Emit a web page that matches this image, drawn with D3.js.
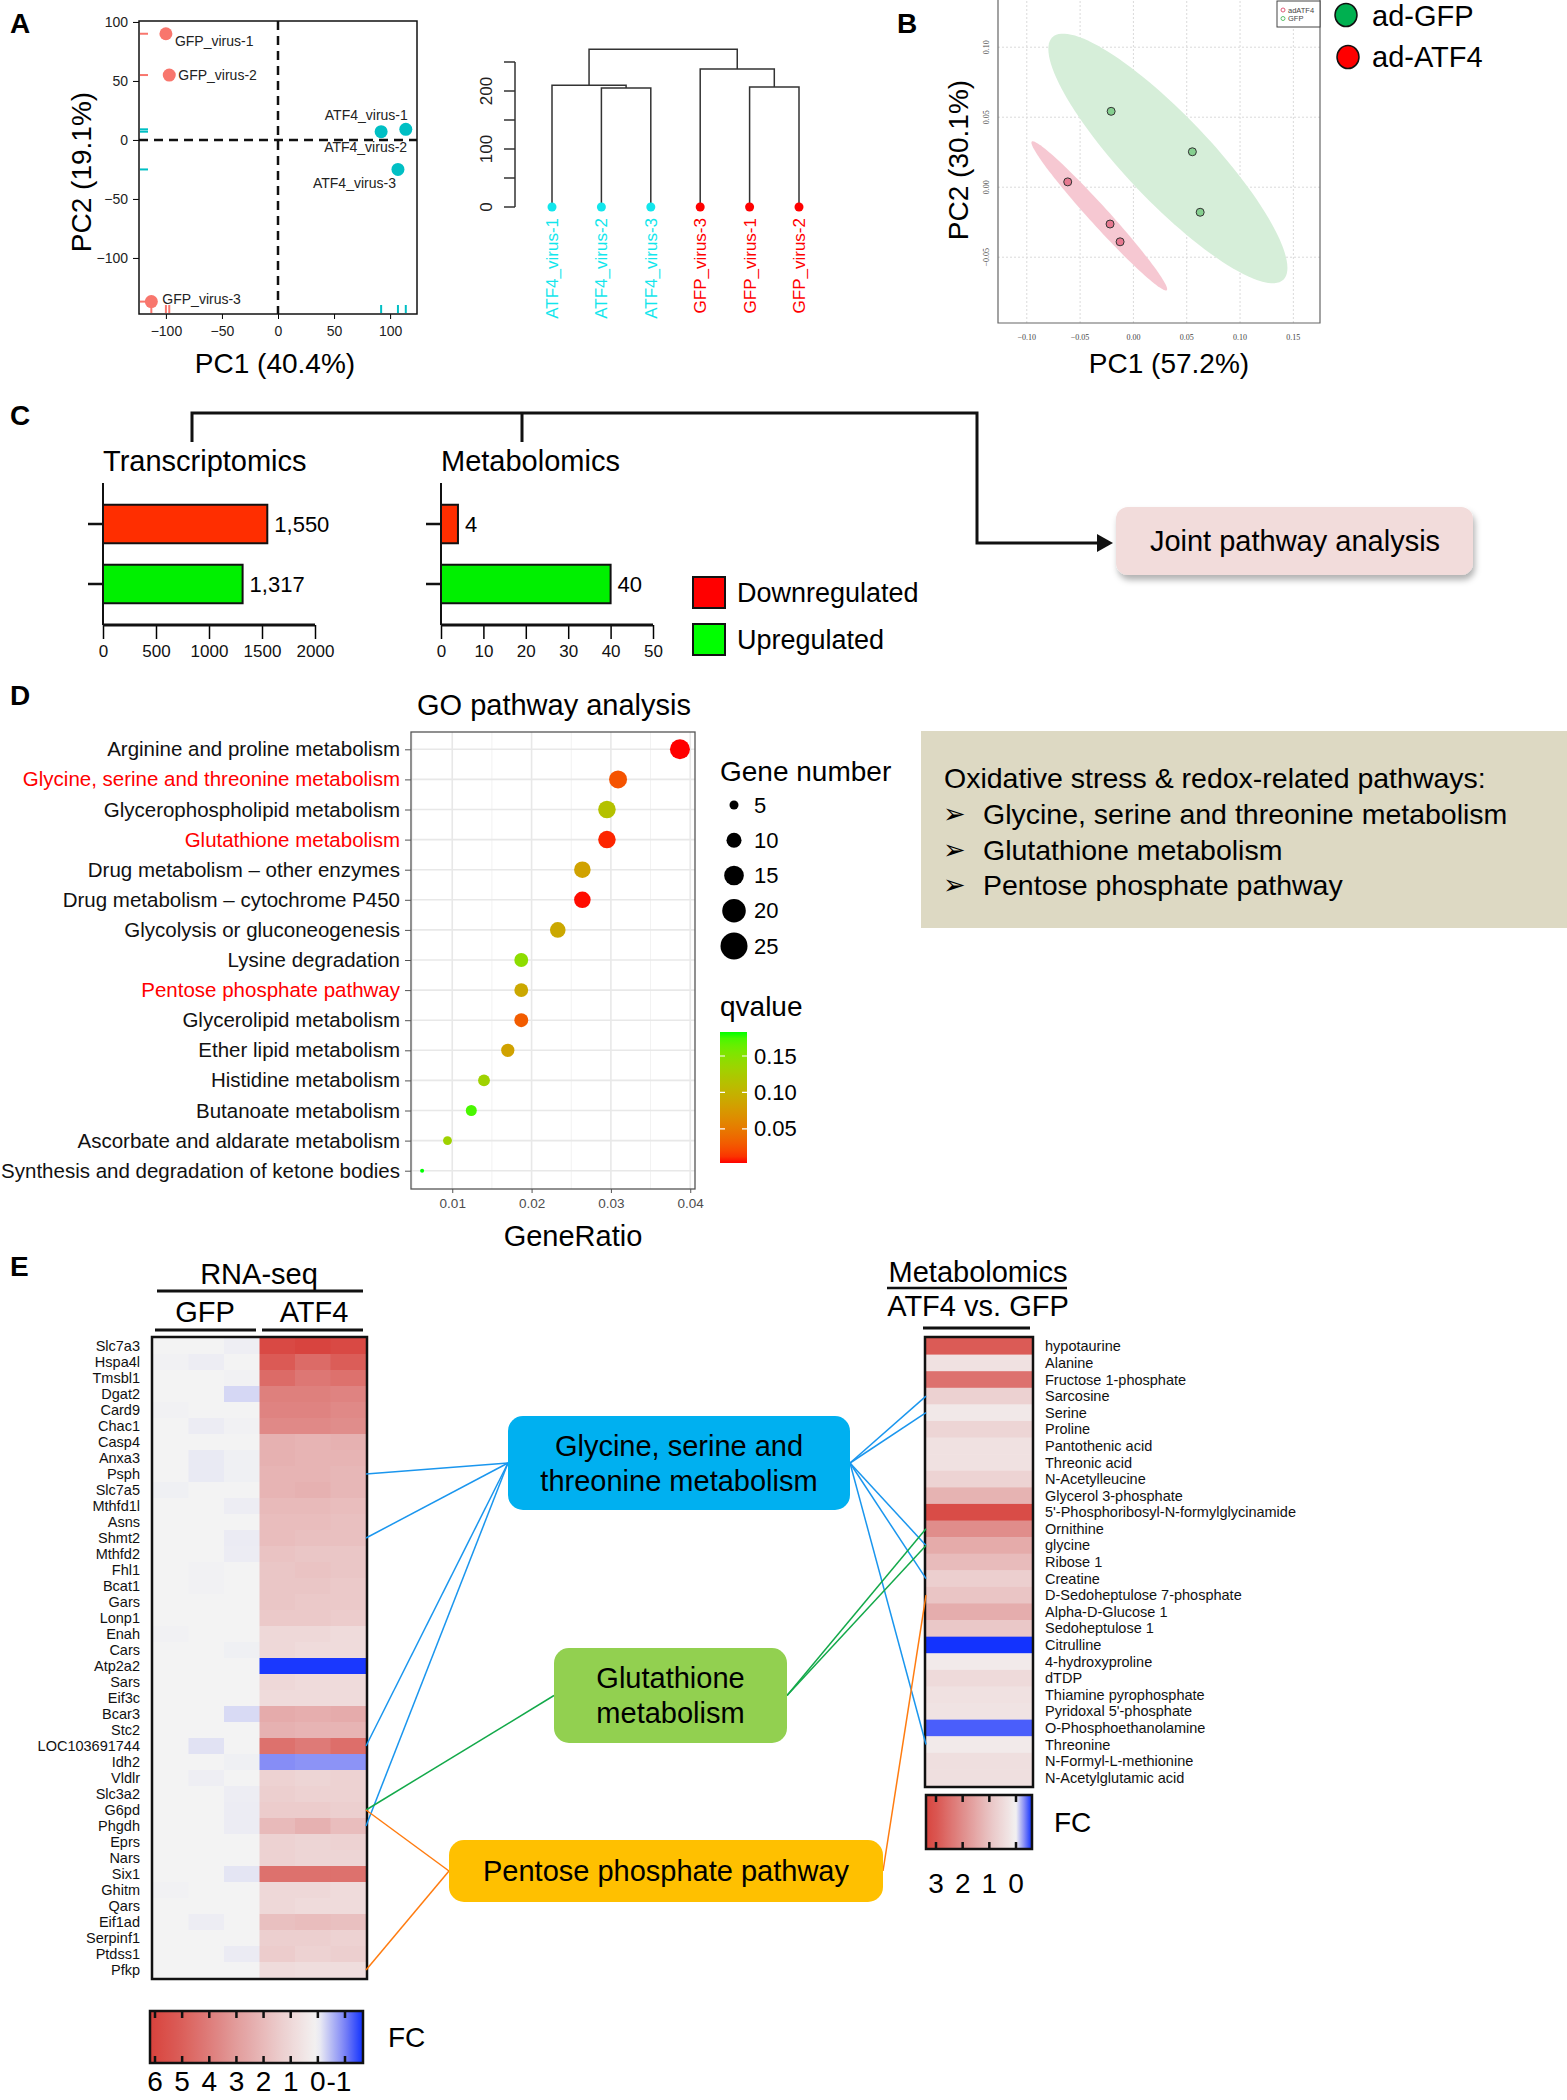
<!DOCTYPE html>
<html>
<head>
<meta charset="utf-8">
<script src="https://cdn.jsdelivr.net/npm/d3@7"></script>
<style>
body { margin: 0; background: #fff; }
svg { display: block; }
</style>
</head>
<body>
<script>
// ---- A: PCA of RNA-seq samples ----
const pcaSample = ["GFP_virus-1", "GFP_virus-2", "GFP_virus-3", "ATF4_virus-1", "ATF4_virus-2", "ATF4_virus-3"]
const pcaGroup = ["GFP", "GFP", "GFP", "ATF4", "ATF4", "ATF4"]
const pcaPC1 = [-100, -97, -113, 114, 92, 107]
const pcaPC2 = [90, 55, -137, 9, 7, -25]
const pcaTicks = [-100, -50, 0, 50, 100]

// ---- A: clustering (merge = [left, right, height], numbers point to earlier merges) ----
const dendLeaves = ["ATF4_virus-1", "ATF4_virus-2", "ATF4_virus-3", "GFP_virus-3", "GFP_virus-1", "GFP_virus-2"]
const dendMerges = [["ATF4_virus-2", "ATF4_virus-3", 205], ["ATF4_virus-1", 0, 210], ["GFP_virus-1", "GFP_virus-2", 207], ["GFP_virus-3", 2, 238], [1, 3, 272]]
const dendTicks = [0, 50, 100, 150, 200, 250]
const dendTickLabels = [0, 100, 200]

// ---- B: metabolomics PCA ----
const gfpPC1 = [-0.0209, 0.0553, 0.0626]
const gfpPC2 = [0.0542, 0.0253, -0.0179]
const atfPC1 = [-0.0616, -0.0219, -0.0125]
const atfPC2 = [0.0038, -0.0263, -0.039]
const gfpEllipseAxes = [[0.1083, -0.0866], [0.0290, 0.0212]]
const atfEllipseAxes = [[0.0633, -0.0531], [0.0066, 0.0046]]
const metTicksX = [-0.10, -0.05, 0, 0.05, 0.10, 0.15]
const metTicksY = [-0.05, 0, 0.05, 0.10]
const metGroups = ["ad-GFP", "ad-ATF4"]

// ---- C: differential counts ----
const omicsTypes = ["Transcriptomics", "Metabolomics"]
const regulation = ["Downregulated", "Upregulated"]
const downCounts = [1550, 4]
const upCounts = [1317, 40]
const countMax = [2000, 50]
const countTicks = [[0, 500, 1000, 1500, 2000], [0, 10, 20, 30, 40, 50]]

// ---- D: GO pathway enrichment ----
const goTerms = ["Arginine and proline metabolism", "Glycine, serine and threonine metabolism", "Glycerophospholipid metabolism",
    "Glutathione metabolism", "Drug metabolism \u2013 other enzymes", "Drug metabolism \u2013 cytochrome P450",
    "Glycolysis or gluconeogenesis", "Lysine degradation", "Pentose phosphate pathway", "Glycerolipid metabolism",
    "Ether lipid metabolism", "Histidine metabolism", "Butanoate metabolism", "Ascorbate and aldarate metabolism",
    "Synthesis and degradation of ketone bodies"]
const goRatio = [0.0387, 0.0309, 0.0295, 0.0295, 0.0264, 0.0264, 0.0233, 0.0187, 0.0187, 0.0187, 0.0170, 0.0140, 0.0124, 0.0094, 0.0062]
const goCount = [25, 20, 19, 19, 17, 17, 15, 12, 12, 12, 11, 9, 8, 6, 4]
const goQ = [0.003, 0.025, 0.115, 0.008, 0.084, 0.004, 0.09, 0.145, 0.09, 0.03, 0.084, 0.133, 0.174, 0.133, 0.183]
const goRatioTicks = [0.01, 0.02, 0.03, 0.04]
const goMinorTicks = [0.005, 0.015, 0.025, 0.035]
const redoxPathways = ["Glycine, serine and threonine metabolism", "Glutathione metabolism", "Pentose phosphate pathway"]
const sizeBreaks = [5, 10, 15, 20, 25]
const qBreaks = [0.05, 0.10, 0.15]

// ---- E: RNA-seq heatmap ----
const rnaGenes = ["Slc7a3", "Hspa4l", "Tmsbl1", "Dgat2", "Card9", "Chac1", "Casp4", "Anxa3", "Psph", "Slc7a5",
    "Mthfd1l", "Asns", "Shmt2", "Mthfd2", "Fhl1", "Bcat1", "Gars", "Lonp1", "Enah", "Cars",
    "Atp2a2", "Sars", "Eif3c", "Bcar3", "Stc2", "LOC103691744", "Idh2", "Vldlr", "Slc3a2", "G6pd",
    "Phgdh", "Eprs", "Nars", "Six1", "Ghitm", "Qars", "Eif1ad", "Serpinf1", "Ptdss1", "Pfkp"]
const rnaGFP = [[0, 0, -0.04], [-0.02, -0.05, 0], [0, 0, -0.02], [0, 0, -0.25], [-0.02, 0, 0], [0, -0.06, -0.02],
    [0, 0, 0], [0, -0.08, -0.03], [0, -0.08, -0.03], [-0.03, 0, 0], [0, 0, -0.05], [0, 0, 0], [0, 0, -0.07],
    [0, 0, -0.06], [0, -0.02, 0], [0, -0.02, 0], [0, 0, 0], [0, 0, 0], [-0.02, 0, 0], [0, 0, -0.03],
    [0, 0, 0], [0, 0, 0], [0, 0, 0], [0, 0, -0.22], [0, 0, 0], [0, -0.15, 0], [0, 0, -0.03], [0, -0.04, 0],
    [0, 0, -0.05], [0, 0, -0.06], [0, 0, -0.06], [0, 0, 0], [0, 0, 0], [0, 0, -0.12], [-0.02, 0, 0],
    [0, 0, 0], [0, -0.05, 0], [0, 0, 0], [0, 0, -0.07], [0, 0, 0]]
const rnaATF4 = [[5.9, 6.1, 5.9], [5.2, 4.6, 5.1], [4.6, 4.2, 4.4], [3.9, 3.9, 3.8], [3.8, 3.8, 3.6], [3.6, 3.6, 3.5],
    [2.3, 2.2, 2.3], [2.3, 2.2, 2.2], [2.2, 2.2, 2.1], [2.2, 2.3, 2.1], [2.0, 2.0, 1.9], [1.9, 1.9, 1.8],
    [1.9, 1.8, 1.8], [1.7, 1.6, 1.6], [1.6, 1.7, 1.6], [1.6, 1.6, 1.5], [1.6, 1.5, 1.5], [1.5, 1.5, 1.4],
    [1.0, 1.0, 0.9], [1.0, 0.9, 0.9], [-1.6, -1.6, -1.6], [1.0, 0.9, 0.9], [0.9, 0.9, 0.9], [2.5, 2.4, 2.5],
    [2.3, 2.2, 2.2], [4.4, 4.1, 4.5], [-0.9, -0.85, -0.85], [1.2, 1.1, 1.2], [1.3, 1.2, 1.2], [1.4, 1.4, 1.3],
    [2.0, 2.3, 1.9], [1.2, 1.1, 1.2], [1.2, 1.1, 1.1], [4.4, 4.4, 4.4], [1.0, 1.0, 0.9], [1.0, 0.9, 0.9],
    [1.8, 1.9, 1.8], [1.3, 1.3, 1.2], [1.4, 1.2, 1.3], [0.9, 0.8, 0.8]]
const rnaLegendTicks = [6, 5, 4, 3, 2, 1, 0, -1]

// ---- E: metabolomics heatmap ----
const metabolites = ["hypotaurine", "Alanine", "Fructose 1-phosphate", "Sarcosine", "Serine", "Proline", "Pantothenic acid",
    "Threonic acid", "N-Acetylleucine", "Glycerol 3-phosphate", "5'-Phosphoribosyl-N-formylglycinamide", "Ornithine",
    "glycine", "Ribose 1", "Creatine", "D-Sedoheptulose 7-phosphate", "Alpha-D-Glucose 1", "Sedoheptulose 1",
    "Citrulline", "4-hydroxyproline", "dTDP", "Thiamine pyrophosphate", "Pyridoxal 5'-phosphate",
    "O-Phosphoethanolamine", "Threonine", "N-Formyl-L-methionine", "N-Acetylglutamic acid"]
const metFC = [2.9, 0.35, 2.5, 0.7, 0.2, 0.6, 0.35, 0.35, 0.65, 1.3, 3.2, 2.0, 1.45, 1.15, 0.75, 0.95, 1.4, 0.9,
    -0.58, 0.15, 0.5, 0.35, 0.3, -0.45, 0.15, 0.4, 0.4]
const metLegendTicks = [3, 2, 1, 0]

// ---- E: joint pathways ----
const pathwayNames = ["Glycine, serine and threonine metabolism", "Glutathione metabolism", "Pentose phosphate pathway"]
const pathwayGenes = [["Psph", "Shmt2", "LOC103691744", "Phgdh"], ["G6pd"], ["G6pd", "Pfkp"]]
const pathwayMetabolites = [["Sarcosine", "Serine", "glycine", "Creatine", "Threonine"], ["Ornithine", "glycine"], ["D-Sedoheptulose 7-phosphate"]]

// ================= drawing =================
const FONT = "'Liberation Sans', Arial, Helvetica, sans-serif"
const svg = d3.select("body").append("svg")
    .attr("width", 1567).attr("height", 2100)
    .style("font-family", FONT)
svg.append("rect").attr("width", 1567).attr("height", 2100).attr("fill", "#fff")
const defs = svg.append("defs")

// panel letters
const letters = [["A", 10, 33], ["B", 897, 33], ["C", 10, 425], ["D", 10, 705], ["E", 10, 1276]]
svg.append("g").selectAll("text").data(letters).join("text")
    .attr("x", d => d[1]).attr("y", d => d[2])
    .attr("font-size", 28).attr("font-weight", "bold").text(d => d[0])

function styleAxis (g, size, fill) {
    g.select(".domain").remove()
    g.selectAll("text").attr("font-size", size).attr("fill", fill).attr("font-family", FONT)
    return g
}

// ---------- A: PCA ----------
const xA = d3.scaleLinear().domain([-124, 124]).range([139, 417])
const yA = d3.scaleLinear().domain([-147.5, 100.8]).range([314, 21])
const colA = d3.scaleOrdinal().domain(["GFP", "ATF4"]).range(["#f8766d", "#00bfc4"])
const gA = svg.append("g")

gA.append("g").attr("transform", "translate(0,314)")
    .call(d3.axisBottom(xA).tickValues(pcaTicks).tickSize(5).tickSizeOuter(0))
    .call(g => styleAxis(g, 14, "#222"))
    .call(g => g.selectAll("text").attr("y", 12))
gA.append("g").attr("transform", "translate(139,0)")
    .call(d3.axisLeft(yA).tickValues(pcaTicks).tickSize(6).tickSizeOuter(0))
    .call(g => styleAxis(g, 14, "#222"))
    .call(g => g.selectAll("text").attr("x", -11))

gA.append("line").attr("x1", xA(0)).attr("x2", xA(0)).attr("y1", 21).attr("y2", 314)
    .attr("stroke", "#111").attr("stroke-width", 2.5).attr("stroke-dasharray", "9,6")
gA.append("line").attr("x1", 139).attr("x2", 417).attr("y1", yA(0)).attr("y2", yA(0))
    .attr("stroke", "#111").attr("stroke-width", 2.5).attr("stroke-dasharray", "9,6")

const idxA = d3.range(pcaSample.length)
gA.append("g").selectAll("line").data(idxA).join("line")
    .attr("x1", 140).attr("x2", 148)
    .attr("y1", i => yA(pcaPC2[i])).attr("y2", i => yA(pcaPC2[i]))
    .attr("stroke", i => colA(pcaGroup[i])).attr("stroke-width", 2)
gA.append("g").selectAll("line").data(idxA).join("line")
    .attr("y1", 305).attr("y2", 313)
    .attr("x1", i => xA(pcaPC1[i])).attr("x2", i => xA(pcaPC1[i]))
    .attr("stroke", i => colA(pcaGroup[i])).attr("stroke-width", 2)

gA.append("g").selectAll("circle").data(idxA).join("circle")
    .attr("cx", i => xA(pcaPC1[i])).attr("cy", i => yA(pcaPC2[i])).attr("r", 6.5)
    .attr("fill", i => colA(pcaGroup[i]))

// label nudges (layout only)
const labNudge = [[9, 12, "start"], [9, 5, "start"], [11, 2, "start"], [2, -9, "end"], [26, 20, "end"], [-2, 19, "end"]]
gA.append("g").selectAll("text").data(idxA).join("text")
    .attr("x", i => xA(pcaPC1[i]) + labNudge[i][0])
    .attr("y", i => yA(pcaPC2[i]) + labNudge[i][1])
    .attr("text-anchor", i => labNudge[i][2])
    .attr("font-size", 14).attr("fill", "#222").text(i => pcaSample[i])

gA.append("rect").attr("x", 139).attr("y", 21).attr("width", 278).attr("height", 293)
    .attr("fill", "none").attr("stroke", "#111").attr("stroke-width", 1.5)

gA.append("text").attr("x", 275).attr("y", 373).attr("text-anchor", "middle")
    .attr("font-size", 28).text("PC1 (40.4%)")
gA.append("text").attr("transform", "translate(91,172) rotate(-90)").attr("text-anchor", "middle")
    .attr("font-size", 28).text("PC2 (19.1%)")

// ---------- A: dendrogram ----------
const xDn = d3.scalePoint().domain(dendLeaves).range([552, 799])
const yDn = d3.scaleLinear().domain([0, 250]).range([207, 62])
const gDn = svg.append("g")
const dendColor = name => name.startsWith("ATF4") ? "#12e6ec" : "#ff0000"

const nodes = []
const nodeOf = ref => typeof ref === "string" ? {x: xDn(ref), h: 0} : nodes[ref]
dendMerges.forEach(([a, b, h]) => {
    const na = nodeOf(a), nb = nodeOf(b)
    gDn.append("path")
        .attr("d", `M${na.x},${yDn(na.h)}V${yDn(h)}H${nb.x}V${yDn(nb.h)}`)
        .attr("fill", "none").attr("stroke", "#333").attr("stroke-width", 1.5)
    nodes.push({x: (na.x + nb.x) / 2, h: h})
})
gDn.append("g").selectAll("circle").data(dendLeaves).join("circle")
    .attr("cx", d => xDn(d)).attr("cy", yDn(0)).attr("r", 4.5).attr("fill", dendColor)
gDn.append("g").selectAll("text").data(dendLeaves).join("text")
    .attr("transform", d => `translate(${xDn(d) + 6},218) rotate(-90)`)
    .attr("text-anchor", "end").attr("font-size", 17).attr("fill", dendColor).text(d => d)

gDn.append("line").attr("x1", 515).attr("x2", 515).attr("y1", yDn(0)).attr("y2", yDn(250))
    .attr("stroke", "#333").attr("stroke-width", 1.5)
gDn.append("g").selectAll("line").data(dendTicks).join("line")
    .attr("x1", 504).attr("x2", 515).attr("y1", d => yDn(d)).attr("y2", d => yDn(d))
    .attr("stroke", "#333").attr("stroke-width", 1.5)
gDn.append("g").selectAll("text").data(dendTickLabels).join("text")
    .attr("transform", d => `translate(492,${yDn(d)}) rotate(-90)`)
    .attr("text-anchor", "middle").attr("font-size", 17).attr("fill", "#222").text(d => d)

// ---------- B: metabolomics PCA ----------
const xB = d3.scaleLinear().domain([-0.127, 0.175]).range([998, 1320])
const yB = d3.scaleLinear().domain([-0.097, 0.133]).range([323, 1])
const gB = svg.append("g")

gB.append("g").selectAll("line").data(metTicksX).join("line")
    .attr("x1", d => xB(d)).attr("x2", d => xB(d)).attr("y1", 1).attr("y2", 323)
    .attr("stroke", "#dadada").attr("stroke-dasharray", "2,2")
gB.append("g").selectAll("line").data(metTicksY).join("line")
    .attr("y1", d => yB(d)).attr("y2", d => yB(d)).attr("x1", 998).attr("x2", 1320)
    .attr("stroke", "#dadada").attr("stroke-dasharray", "2,2")

function ellipsePath (cx, cy, axes) {
    const [u, v] = axes
    const pts = d3.range(0, 2 * Math.PI + 0.01, Math.PI / 60)
        .map(t => [xB(cx + u[0] * Math.cos(t) + v[0] * Math.sin(t)), yB(cy + u[1] * Math.cos(t) + v[1] * Math.sin(t))])
    return d3.line()(pts) + "Z"
}
gB.append("path").attr("d", ellipsePath(d3.mean(gfpPC1), d3.mean(gfpPC2), gfpEllipseAxes))
    .attr("fill", "#d6eed9")
gB.append("path").attr("d", ellipsePath(d3.mean(atfPC1), d3.mean(atfPC2), atfEllipseAxes))
    .attr("fill", "#f6c8d2")

gB.append("g").selectAll("circle").data(d3.range(3)).join("circle")
    .attr("cx", i => xB(gfpPC1[i])).attr("cy", i => yB(gfpPC2[i])).attr("r", 4)
    .attr("fill", "#85cf8f").attr("stroke", "#333").attr("stroke-width", 1)
gB.append("g").selectAll("circle").data(d3.range(3)).join("circle")
    .attr("cx", i => xB(atfPC1[i])).attr("cy", i => yB(atfPC2[i])).attr("r", 4)
    .attr("fill", "#e6788f").attr("stroke", "#333").attr("stroke-width", 1)

gB.append("path").attr("d", "M998,0V323H1320V0")
    .attr("fill", "none").attr("stroke", "#666").attr("stroke-width", 1.2)
gB.append("g").selectAll("text").data(metTicksX).join("text")
    .attr("x", d => xB(d)).attr("y", 340).attr("text-anchor", "middle")
    .attr("font-family", "'Liberation Serif', serif").attr("font-size", 8).attr("fill", "#444")
    .text(d => d3.format(".2f")(d))
gB.append("g").selectAll("text").data(metTicksY).join("text")
    .attr("transform", d => `translate(989,${yB(d)}) rotate(-90)`).attr("text-anchor", "middle")
    .attr("font-family", "'Liberation Serif', serif").attr("font-size", 8).attr("fill", "#444")
    .text(d => d3.format(".2f")(d))

// small inner legend
const innerNames = ["adATF4", "GFP"]
const innerLeg = gB.append("g")
innerLeg.append("rect").attr("x", 1277).attr("y", 1).attr("width", 43).attr("height", 26)
    .attr("fill", "#fff").attr("stroke", "#444").attr("stroke-width", 1)
innerLeg.selectAll("circle").data(innerNames).join("circle")
    .attr("cx", 1283).attr("cy", (d, i) => 10 + i * 8.5).attr("r", 2)
    .attr("fill", "none").attr("stroke", (d, i) => i ? "#5cc06a" : "#e05a78").attr("stroke-width", 1)
innerLeg.selectAll("text").data(innerNames).join("text")
    .attr("x", 1288).attr("y", (d, i) => 12.7 + i * 8.5).attr("font-size", 7.5).attr("fill", "#444").text(d => d)

// outer legend
const outerColors = ["#00b050", "#ff0000"]
const outerLeg = gB.append("g")
outerLeg.selectAll("ellipse").data(metGroups).join("ellipse")
    .attr("cx", (d, i) => 1346 + i * 2).attr("cy", (d, i) => 15 + i * 42).attr("rx", 11).attr("ry", 11.5)
    .attr("fill", (d, i) => outerColors[i]).attr("stroke", "#111").attr("stroke-width", 1.5)
outerLeg.selectAll("text").data(metGroups).join("text")
    .attr("x", 1372).attr("y", (d, i) => 26 + i * 41).attr("font-size", 29).text(d => d)

gB.append("text").attr("x", 1169).attr("y", 373).attr("text-anchor", "middle")
    .attr("font-size", 28).text("PC1 (57.2%)")
gB.append("text").attr("transform", "translate(968,160) rotate(-90)").attr("text-anchor", "middle")
    .attr("font-size", 28).text("PC2 (30.1%)")

// ---------- C: counts ----------
const gC = svg.append("g")
const bracket = "M192,442V413H977V543H1100M522,413V442"
gC.append("path").attr("d", bracket).attr("fill", "none").attr("stroke", "#111").attr("stroke-width", 3)
gC.append("path").attr("d", "M1097,534L1113,543L1097,552Z").attr("fill", "#111")

const barY = d3.scaleBand().domain(regulation).range([483, 625]).paddingInner(0.358).paddingOuter(0.3625)
const barColors = {Downregulated: "#ff2e00", Upregulated: "#00f000"}
const chartLeft = [103, 441]
omicsTypes.forEach((name, k) => {
    const x = d3.scaleLinear().domain([0, countMax[k]]).range([chartLeft[k], chartLeft[k] + 212])
    const g = gC.append("g")
    g.append("text").attr("x", chartLeft[k]).attr("y", 471).attr("font-size", 29).text(name)
    const vals = [downCounts[k], upCounts[k]]
    g.selectAll("rect").data(regulation).join("rect")
        .attr("x", x(0)).attr("y", d => barY(d)).attr("height", barY.bandwidth())
        .attr("width", (d, i) => x(vals[i]) - x(0))
        .attr("fill", d => barColors[d]).attr("stroke", "#111").attr("stroke-width", 2)
    g.selectAll("text.val").data(regulation).join("text").attr("class", "val")
        .attr("x", (d, i) => x(vals[i]) + 7).attr("y", d => barY(d) + barY.bandwidth() / 2).attr("dy", "0.35em")
        .attr("font-size", 22).text((d, i) => d3.format(",")(vals[i]))
    g.append("line").attr("x1", x(0)).attr("x2", x(0)).attr("y1", 483).attr("y2", 625)
        .attr("stroke", "#111").attr("stroke-width", 2)
    g.selectAll("line.tk").data(regulation).join("line").attr("class", "tk")
        .attr("x1", x(0) - 15).attr("x2", x(0)).attr("y1", d => barY(d) + barY.bandwidth() / 2)
        .attr("y2", d => barY(d) + barY.bandwidth() / 2).attr("stroke", "#111").attr("stroke-width", 2.5)
    g.append("g").attr("transform", "translate(0,625)")
        .call(d3.axisBottom(x).tickValues(countTicks[k]).tickFormat(d3.format("d")).tickSize(14).tickSizeOuter(0))
        .call(ax => styleAxis(ax, 17, "#111"))
        .call(ax => ax.selectAll("line").attr("stroke-width", 1.5))
        .call(ax => ax.selectAll("text").attr("y", 20))
    g.append("line").attr("x1", x(0)).attr("x2", x(countMax[k])).attr("y1", 625).attr("y2", 625)
        .attr("stroke", "#111").attr("stroke-width", 3)
})
const legC = gC.append("g")
legC.selectAll("rect").data(regulation).join("rect")
    .attr("x", 693).attr("y", (d, i) => 577 + i * 47).attr("width", 32).attr("height", 31)
    .attr("fill", (d, i) => i ? "#00ff00" : "#ff0000").attr("stroke", "#111").attr("stroke-width", 2)
legC.selectAll("text").data(regulation).join("text")
    .attr("x", 737).attr("y", (d, i) => 593 + i * 47).attr("dy", "0.35em").attr("font-size", 27).text(d => d)

const shadow = defs.append("filter").attr("id", "shadow").attr("x", "-10%").attr("y", "-20%").attr("width", "130%").attr("height", "160%")
shadow.append("feDropShadow").attr("dx", 2).attr("dy", 5).attr("stdDeviation", 3).attr("flood-color", "#000").attr("flood-opacity", 0.3)
gC.append("rect").attr("x", 1116).attr("y", 507).attr("width", 357).attr("height", 68).attr("rx", 12)
    .attr("fill", "#f2dcdb").attr("filter", "url(#shadow)")
gC.append("text").attr("x", 1295).attr("y", 541).attr("dy", "0.35em").attr("text-anchor", "middle")
    .attr("font-size", 29).text("Joint pathway analysis")

// ---------- D: GO dot plot ----------
const gD = svg.append("g")
const xG = d3.scaleLinear().domain([0.0048, 0.0406]).range([411, 695])
const yG = d3.scalePoint().domain(goTerms).range([749.3, 1170.7])
const qColor = d3.scaleLinear().domain([0.003, 0.183]).range(["#ff0000", "#00ff00"]).interpolate(d3.interpolateLab)
const sizeNorm = d3.scaleLinear().domain(d3.extent(goCount)).range([0, 1])
const sizeArea = d3.scaleSqrt().domain([0, 1]).range([2, 10])
const legendSize = d3.scaleSqrt().domain([5, 25]).range([4.5, 13.5])

gD.append("text").attr("x", 554).attr("y", 715).attr("text-anchor", "middle").attr("font-size", 29).text("GO pathway analysis")
gD.append("g").selectAll("line").data(goMinorTicks).join("line")
    .attr("x1", d => xG(d)).attr("x2", d => xG(d)).attr("y1", 732).attr("y2", 1189)
    .attr("stroke", "#f2f2f2").attr("stroke-width", 1)
gD.append("g").selectAll("line").data(goRatioTicks).join("line")
    .attr("x1", d => xG(d)).attr("x2", d => xG(d)).attr("y1", 732).attr("y2", 1189)
    .attr("stroke", "#e8e8e8").attr("stroke-width", 1.6)
gD.append("g").selectAll("line").data(goTerms).join("line")
    .attr("y1", d => yG(d)).attr("y2", d => yG(d)).attr("x1", 411).attr("x2", 695)
    .attr("stroke", "#e8e8e8").attr("stroke-width", 1.6)
gD.append("rect").attr("x", 411).attr("y", 732).attr("width", 284).attr("height", 457)
    .attr("fill", "none").attr("stroke", "#555").attr("stroke-width", 1.3)

gD.append("g").attr("transform", "translate(0,1189)")
    .call(d3.axisBottom(xG).tickValues(goRatioTicks).tickFormat(d3.format(".2f")).tickSize(4).tickSizeOuter(0))
    .call(g => styleAxis(g, 13.5, "#4d4d4d"))
    .call(g => g.selectAll("line").attr("stroke", "#555"))
    .call(g => g.selectAll("text").attr("y", 9))
gD.append("g").attr("transform", "translate(411,0)")
    .call(d3.axisLeft(yG).tickSize(6).tickSizeOuter(0))
    .call(g => styleAxis(g, 20.5, "#111"))
    .call(g => g.selectAll("line").attr("stroke", "#555"))
    .call(g => g.selectAll("text").attr("x", -11).attr("fill", d => redoxPathways.includes(d) ? "#ff0000" : "#111"))

gD.append("g").selectAll("circle").data(d3.range(goTerms.length)).join("circle")
    .attr("cx", i => xG(goRatio[i])).attr("cy", i => yG(goTerms[i]))
    .attr("r", i => sizeArea(sizeNorm(goCount[i]))).attr("fill", i => qColor(goQ[i]))
gD.append("text").attr("x", 573).attr("y", 1246).attr("text-anchor", "middle").attr("font-size", 29).text("GeneRatio")

// size legend
const sizeLegY = d3.scalePoint().domain(sizeBreaks).range([805, 946])
gD.append("text").attr("x", 720).attr("y", 781).attr("font-size", 28).text("Gene number")
gD.append("g").selectAll("circle").data(sizeBreaks).join("circle")
    .attr("cx", 734).attr("cy", d => sizeLegY(d)).attr("r", d => legendSize(d)).attr("fill", "#000")
gD.append("g").selectAll("text").data(sizeBreaks).join("text")
    .attr("x", 754).attr("y", d => sizeLegY(d)).attr("dy", "0.35em").attr("font-size", 22).text(d => d)

// qvalue colourbar
const qBarY = d3.scaleLinear().domain([0.003, 0.183]).range([1163, 1032])
const qGrad = defs.append("linearGradient").attr("id", "qgrad").attr("x1", 0).attr("x2", 0).attr("y1", 1).attr("y2", 0)
qGrad.selectAll("stop").data(d3.range(0, 1.001, 0.05)).join("stop")
    .attr("offset", t => t).attr("stop-color", t => qColor(0.003 + t * 0.18))
gD.append("text").attr("x", 720).attr("y", 1016).attr("font-size", 28).text("qvalue")
gD.append("rect").attr("x", 720).attr("y", 1032).attr("width", 27).attr("height", 131).attr("fill", "url(#qgrad)")
gD.append("g").selectAll("path").data(qBreaks).join("path")
    .attr("d", d => `M720,${qBarY(d)}h5M742,${qBarY(d)}h5`).attr("stroke", "#fff").attr("stroke-width", 1.2)
gD.append("g").selectAll("text").data(qBreaks).join("text")
    .attr("x", 754).attr("y", d => qBarY(d)).attr("dy", "0.35em").attr("font-size", 22).text(d => d3.format(".2f")(d))

// redox box
const gBox = svg.append("g")
gBox.append("rect").attr("x", 921).attr("y", 731).attr("width", 646).attr("height", 197).attr("fill", "#ddd9c3")
gBox.append("text").attr("x", 944).attr("y", 788).attr("font-size", 28.5).text("Oxidative stress & redox-related pathways:")
gBox.selectAll("text.item").data(redoxPathways).join("text").attr("class", "item")
    .attr("x", 983).attr("y", (d, i) => 824 + i * 35.5).attr("font-size", 28.5).text(d => d)
gBox.selectAll("text.bullet").data(redoxPathways).join("text").attr("class", "bullet")
    .attr("x", 943).attr("y", (d, i) => 823 + i * 35.5).attr("font-family", "'DejaVu Sans', sans-serif")
    .attr("font-size", 27).text("\u27A2")

// ---------- E: heatmaps ----------
const gE = svg.append("g")
const rnaColor = d3.scaleLinear().domain([6.2, 5, 4, 3, 2, 1, 0, -1, -1.7])
    .range(["#d8423c", "#db5f5a", "#de7d7a", "#e29c9b", "#e8baba", "#eed8d8", "#f3f3f3", "#7a82f6", "#0a2cff"]).clamp(true)
const metColor = d3.scaleLinear().domain([3.4, 3, 2, 1, 0, -0.3, -0.6])
    .range(["#d8443e", "#da5550", "#e08d8b", "#e9c3c3", "#f3f1f1", "#8a90f6", "#0a2cff"]).clamp(true)

// headers
const groupHeads = [["GFP", 205, 155, 256], ["ATF4", 314, 262, 363]]
const hdr = gE.append("g")
hdr.append("text").attr("x", 259).attr("y", 1284).attr("text-anchor", "middle").attr("font-size", 29).text("RNA-seq")
hdr.append("line").attr("x1", 157).attr("x2", 363).attr("y1", 1291).attr("y2", 1291).attr("stroke", "#111").attr("stroke-width", 3)
hdr.selectAll("text.grp").data(groupHeads).join("text").attr("class", "grp")
    .attr("x", d => d[1]).attr("y", 1322).attr("text-anchor", "middle").attr("font-size", 29).text(d => d[0])
hdr.selectAll("line.grp").data(groupHeads).join("line").attr("class", "grp")
    .attr("x1", d => d[2]).attr("x2", d => d[3]).attr("y1", 1330).attr("y2", 1330).attr("stroke", "#111").attr("stroke-width", 3)
hdr.append("text").attr("x", 978).attr("y", 1282).attr("text-anchor", "middle").attr("font-size", 29).text("Metabolomics")
hdr.append("line").attr("x1", 887).attr("x2", 1067).attr("y1", 1288).attr("y2", 1288).attr("stroke", "#111").attr("stroke-width", 2.5)
hdr.append("text").attr("x", 978).attr("y", 1316).attr("text-anchor", "middle").attr("font-size", 29).text("ATF4 vs. GFP")
hdr.append("line").attr("x1", 923).attr("x2", 1030).attr("y1", 1328).attr("y2", 1328).attr("stroke", "#111").attr("stroke-width", 3)

// RNA-seq cells
const rnaX = d3.scaleBand().domain(d3.range(6)).range([153, 366])
const rnaY = d3.scaleBand().domain(rnaGenes).range([1338, 1978])
const rnaCells = rnaGenes.flatMap((g, i) => d3.range(6).map(j => ({g, j, v: j < 3 ? rnaGFP[i][j] : rnaATF4[i][j - 3]})))
gE.append("g").selectAll("rect").data(rnaCells).join("rect")
    .attr("x", d => rnaX(d.j)).attr("y", d => rnaY(d.g))
    .attr("width", rnaX.bandwidth() + 0.5).attr("height", rnaY.bandwidth() + 0.5)
    .attr("fill", d => rnaColor(d.v))
gE.append("rect").attr("x", 152).attr("y", 1337).attr("width", 215).attr("height", 642)
    .attr("fill", "none").attr("stroke", "#111").attr("stroke-width", 2.5)
gE.append("g").selectAll("text").data(rnaGenes).join("text")
    .attr("x", 140).attr("y", d => rnaY(d) + rnaY.bandwidth() / 2).attr("dy", "0.35em")
    .attr("text-anchor", "end").attr("font-size", 14.5).attr("fill", "#111").text(d => d)

// metabolomics cells
const metY = d3.scaleBand().domain(metabolites).range([1338, 1786])
gE.append("g").selectAll("rect").data(metabolites).join("rect")
    .attr("x", 926).attr("y", d => metY(d)).attr("width", 106).attr("height", metY.bandwidth() + 0.5)
    .attr("fill", (d, i) => metColor(metFC[i]))
gE.append("rect").attr("x", 925).attr("y", 1337).attr("width", 108).attr("height", 450)
    .attr("fill", "none").attr("stroke", "#111").attr("stroke-width", 2.5)
gE.append("g").selectAll("text").data(metabolites).join("text")
    .attr("x", 1045).attr("y", d => metY(d) + metY.bandwidth() / 2).attr("dy", "0.35em")
    .attr("font-size", 14.5).attr("fill", "#111").text(d => d)

// pathway boxes and links
const boxLayout = [[508, 1416, 342, 94], [554, 1648, 233, 95], [449, 1840, 434, 62]]
const boxFill = ["#00b0f0", "#92d050", "#ffc000"]
const linkColor = ["#1a96ee", "#13a94a", "#ff7c10"]
const boxLines = [["Glycine, serine and", "threonine metabolism"], ["Glutathione", "metabolism"], ["Pentose phosphate pathway"]]
pathwayNames.forEach((name, k) => {
    const [bx, by, bw, bh] = boxLayout[k]
    const cy = by + bh / 2
    const g = gE.append("g")
    g.selectAll("line.gene").data(pathwayGenes[k]).join("line").attr("class", "gene")
        .attr("x1", bx).attr("y1", cy).attr("x2", 366).attr("y2", d => rnaY(d) + rnaY.bandwidth() / 2)
        .attr("stroke", linkColor[k]).attr("stroke-width", 1.5)
    g.selectAll("line.met").data(pathwayMetabolites[k]).join("line").attr("class", "met")
        .attr("x1", bx + bw).attr("y1", cy).attr("x2", 926).attr("y2", d => metY(d) + metY.bandwidth() / 2)
        .attr("stroke", linkColor[k]).attr("stroke-width", 1.5)
    g.append("rect").attr("x", bx).attr("y", by).attr("width", bw).attr("height", bh).attr("rx", 15)
        .attr("fill", boxFill[k])
    const lines = boxLines[k]
    g.selectAll("text").data(lines).join("text")
        .attr("x", bx + bw / 2).attr("y", (d, i) => cy + (i - (lines.length - 1) / 2) * 35)
        .attr("dy", "0.35em").attr("text-anchor", "middle").attr("font-size", 29).text(d => d)
})

// colour legends
function colourLegend (id, scale, axisScale, x0, x1, y0, h, ticks, fcX, labelY) {
    const grad = defs.append("linearGradient").attr("id", id)
    grad.selectAll("stop").data(d3.range(0, 1.001, 0.025)).join("stop")
        .attr("offset", t => t).attr("stop-color", t => scale(axisScale.invert(x0 + t * (x1 - x0))))
    const g = gE.append("g")
    g.append("rect").attr("x", x0).attr("y", y0).attr("width", x1 - x0).attr("height", h)
        .attr("fill", `url(#${id})`).attr("stroke", "#111").attr("stroke-width", 2.5)
    g.selectAll("path").data(ticks).join("path")
        .attr("d", d => `M${axisScale(d)},${y0}v7M${axisScale(d)},${y0 + h}v-7`)
        .attr("stroke", "#111").attr("stroke-width", 2.5)
    g.selectAll("text").data(ticks).join("text")
        .attr("x", d => axisScale(d) + (d < 0 ? -6 : 0)).attr("y", labelY).attr("text-anchor", "middle")
        .attr("font-size", 28).text(d => d)
    g.append("text").attr("x", fcX).attr("y", y0 + h / 2).attr("dy", "0.35em").attr("font-size", 28).text("FC")
}
colourLegend("rnaLeg", rnaColor, d3.scaleLinear().domain([6, -1]).range([155, 345]), 150, 363, 2011, 52, rnaLegendTicks, 388, 2091)
colourLegend("metLeg", metColor, d3.scaleLinear().domain([3, 0]).range([936, 1016]), 926, 1032, 1795, 54, metLegendTicks, 1054, 1893)
</script>
</body>
</html>
